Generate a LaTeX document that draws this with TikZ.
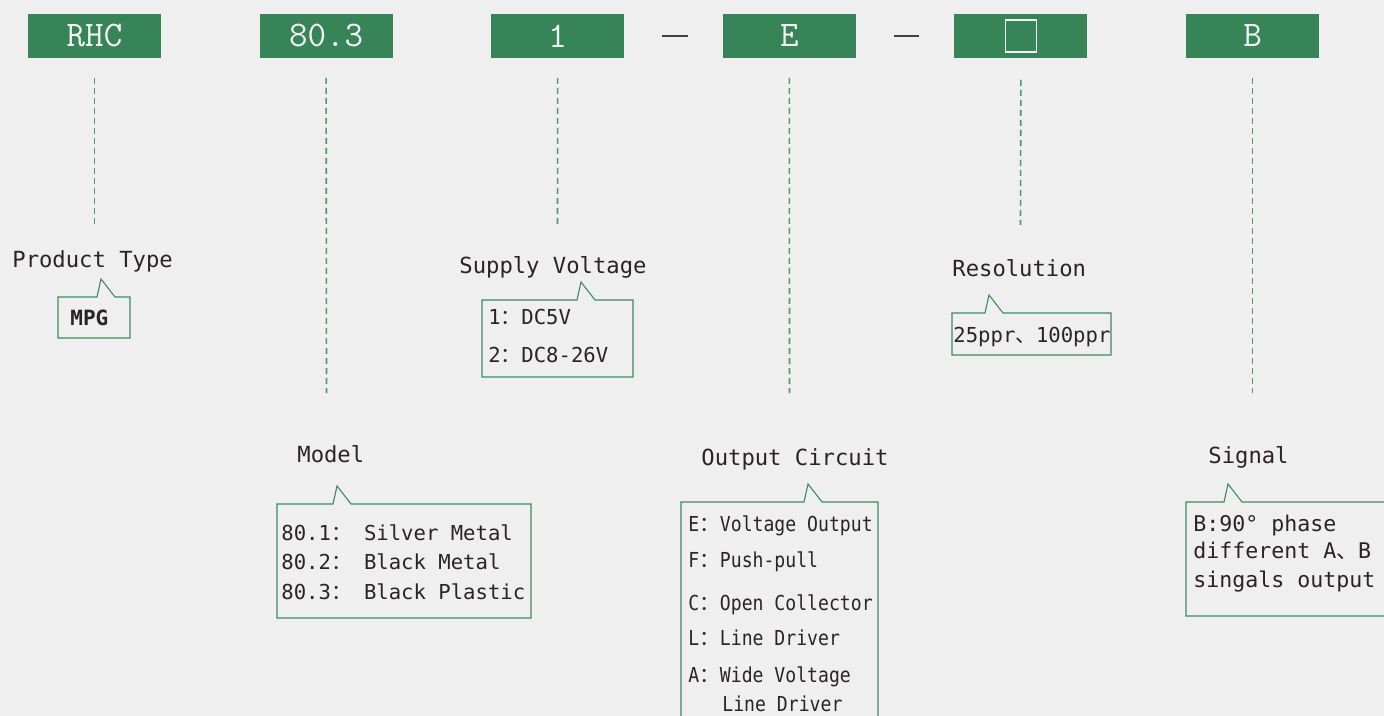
\documentclass[tikz,border=0pt]{standalone}
\usepackage{fontspec}
\usepackage{xcolor}
\usepackage{tikz}
\usetikzlibrary{positioning}

\newfontfamily\labelfont{DejaVu Sans Mono}
\newfontfamily\narrowfont[FakeStretch=0.88]{DejaVu Sans Mono}
\newfontfamily\cjk{Noto Sans CJK SC}

\definecolor{canvas}{HTML}{EFEFEF}
\definecolor{codegreen}{HTML}{368457}
\definecolor{codetext}{HTML}{F2F2F2}
\definecolor{framegreen}{HTML}{3D8B5C}
\definecolor{leadgreen}{HTML}{4E9A6C}
\definecolor{ink}{HTML}{2A2424}
\definecolor{sepgray}{HTML}{404040}

% frame with a small tail on its top edge: #1 node, #2 tail offset from the left
\newcommand{\tailframe}[2]{%
  \draw[frame] (#1.north west) -- ([xshift=#2]#1.north west) -- ++(2pt,9pt) -- ++(7pt,-9pt)
    -- (#1.north east) -- (#1.south east) -- (#1.south west) -- cycle;}

\begin{document}
\begin{tikzpicture}[
    x=0.5pt, y=-0.5pt,
    font=\labelfont,
    % Styles of nodes
    code/.style={rectangle, fill=codegreen, text=codetext, minimum width=66.5pt, minimum height=22pt, inner sep=0pt, outer sep=0pt, font=\fontsize{18}{20}\ttfamily},
    heading/.style={anchor=base west, inner sep=0pt, text=ink, font=\fontsize{11.1}{13}\labelfont},
    entry/.style={anchor=base west, inner sep=0pt, text=ink, font=\fontsize{10.3}{12}\labelfont},
    framebox/.style={rectangle, draw=none, inner sep=0pt, outer sep=0pt},
    % Styles of lines
    frame/.style={draw=framegreen, line width=0.55pt},
    leader/.style={draw=leadgreen, line width=0.8pt, dash pattern=on 3pt off 2pt},
    sepline/.style={draw=sepgray, line width=1pt}
]
\useasboundingbox (0,0) rectangle (1384,716);
\fill[canvas] (0,0) rectangle (1384,716);

% 1. Code boxes (top row)
\node[code] (typecode) at (94.5,36) {RHC};
\node[code, right=49.3pt of typecode] (modelcode) {80.3};
\node[code, right=49.3pt of modelcode] (voltcode) {1};
\node[code, right=49.3pt of voltcode] (outcode) {E};
\node[code, right=49.3pt of outcode] (rescode) {};
\node[code, right=49.3pt of rescode] (sigcode) {B};
\node[draw=codetext, line width=0.7pt, minimum width=15.5pt, minimum height=16pt, inner sep=0pt] (resmark) at (rescode) {};

\draw[sepline, shorten <=19pt, shorten >=17.5pt] (voltcode.east) -- (outcode.west);
\draw[sepline, shorten <=19pt, shorten >=17.5pt] (outcode.east) -- (rescode.west);

% 2. Leaders
\coordinate (typetip) at (94.5,225);
\coordinate (modeltip) at (326.5,393);
\coordinate (volttip) at (557.5,225);
\coordinate (outtip) at (789.5,393);
\coordinate (restip) at (1020.5,225);
\coordinate (sigtip) at (1252.5,393);
\draw[leader, shorten <=10pt] (typecode.south) -- (typetip);
\draw[leader, shorten <=10pt] (modelcode.south) -- (modeltip);
\draw[leader, shorten <=10pt] (voltcode.south) -- (volttip);
\draw[leader, shorten <=10pt] (outcode.south) -- (outtip);
\draw[leader, shorten <=11pt] (rescode.south) -- (restip);
\draw[leader, shorten <=10pt] (sigcode.south) -- (sigtip);

% 3. Headings
\node[heading] (typehead) at (12,268) {Product Type};
\node[heading] (modelhead) at (297,462) {Model};
\node[heading] (volthead) at (459,274) {Supply Voltage};
\node[heading] (outhead) at (701,465) {Output Circuit};
\node[heading] (reshead) at (952,277) {Resolution};
\node[heading] (sighead) at (1208,463) {Signal};

% 4. Option boxes
\node[framebox, minimum width=36pt, minimum height=20.5pt] (typebox) at (94,317.5) {};
\tailframe{typebox}{19.5pt}
\node[entry, font=\fontsize{10.5}{12}\labelfont\bfseries] (typeopt) at (70,325) {MPG};

\node[framebox, minimum width=75.5pt, minimum height=38.5pt] (voltbox) at (557.5,338.5) {};
\tailframe{voltbox}{47.5pt}
\node[entry] (voltopta) at (488,324) {1{\cjk ：}DC5V};
\node[entry] (voltoptb) at (488,362) {2{\cjk ：}DC8-26V};

\node[framebox, minimum width=79.5pt, minimum height=21pt] (resbox) at (1031.5,334) {};
\tailframe{resbox}{16.5pt}
\node[entry] (resopt) at (953,342) {25ppr{\cjk 、}100ppr};

\node[framebox, minimum width=127pt, minimum height=57pt] (modelbox) at (404,561) {};
\tailframe{modelbox}{28pt}
\node[entry] (modelopta) at (281,540) {80.1{\cjk ：} Silver Metal};
\node[entry] (modeloptb) at (281,569) {80.2{\cjk ：} Black Metal};
\node[entry] (modeloptc) at (281,599) {80.3{\cjk ：} Black Plastic};

\node[framebox, minimum width=98.5pt, minimum height=119pt] (outbox) at (779.5,621) {};
\tailframe{outbox}{61.5pt}
\node[entry, font=\fontsize{10.3}{12}\narrowfont] (outopte) at (688,531) {E{\cjk ：}Voltage Output};
\node[entry, font=\fontsize{10.3}{12}\narrowfont] (outoptf) at (688,567) {F{\cjk ：}Push-pull};
\node[entry, font=\fontsize{10.3}{12}\narrowfont] (outoptc) at (688,610) {C{\cjk ：}Open Collector};
\node[entry, font=\fontsize{10.3}{12}\narrowfont] (outoptl) at (688,645) {L{\cjk ：}Line Driver};
\node[entry, font=\fontsize{10.3}{12}\narrowfont] (outopta) at (688,682) {A{\cjk ：}Wide Voltage};
\node[entry, font=\fontsize{10.3}{12}\narrowfont] (outoptw) at (722,711) {Line Driver};

\node[framebox, minimum width=107pt, minimum height=57pt] (sigbox) at (1293,559) {};
\tailframe{sigbox}{19pt}
\node[entry, font=\fontsize{10.8}{12}\labelfont] (sigopta) at (1193,531) {B:90° phase};
\node[entry, font=\fontsize{10.8}{12}\labelfont] (sigoptb) at (1193,558) {different A{\cjk 、}B};
\node[entry, font=\fontsize{10.8}{12}\labelfont] (sigoptc) at (1193,587) {singals output};

\end{tikzpicture}
\end{document}
